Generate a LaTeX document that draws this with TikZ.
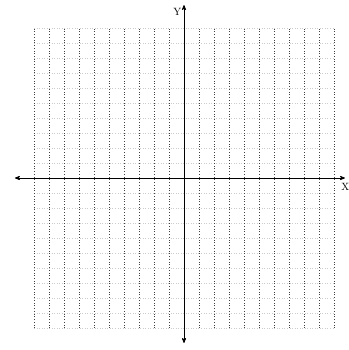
\documentclass[tikz,border=0pt]{standalone}
\usepackage{tikz}
\usetikzlibrary{positioning, arrows}

\begin{document}
\begin{tikzpicture}[x=0.5cm, y=0.5cm,
    vline/.style={black!75, dotted, line width=0.6pt},
    hline/.style={gray!40, dotted, line width=0.4pt},
    axisline/.style={black, line width=0.7pt, <->, >=stealth'}]
  \useasboundingbox (-12.27,-11.47) rectangle (11.0,11.87);
  % grid
  \draw[hline] (-10,-10) grid[xstep=20, ystep=1] (10,10);
  \draw[vline] (-10,-10) grid[xstep=1, ystep=20] (10,10);
  % axes
  \coordinate (xl) at (-11.27,0);
  \coordinate (xr) at (10.73,0);
  \coordinate (yb) at (0,-11.0);
  \coordinate (yt) at (0,11.53);
  \draw[axisline] (xl) -- (xr);
  \draw[axisline] (yb) -- (yt);
  \node (ylab) at (-0.45,11.1) {Y};
  \node (xlab) at (10.75,-0.6) {X};
\end{tikzpicture}
\end{document}
